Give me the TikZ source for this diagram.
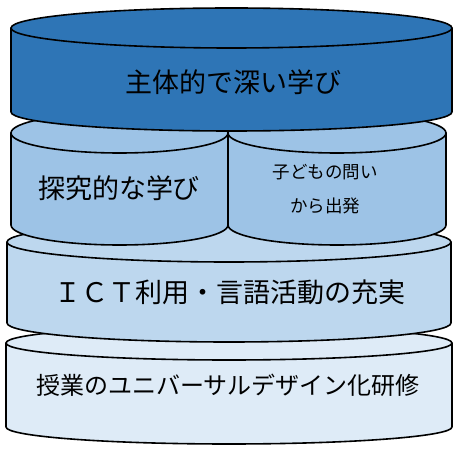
\documentclass[tikz,border=0pt]{standalone}
\usepackage{fontspec}
\newfontfamily\cjk{Noto Sans CJK JP}
\usepackage{xcolor}
\usepackage{tikz}
\usetikzlibrary{positioning}
\definecolor{topblue}{RGB}{46,117,182}
\definecolor{midblue}{RGB}{157,195,230}
\definecolor{ictblue}{RGB}{189,215,238}
\definecolor{baseblue}{RGB}{222,235,247}

\begin{document}
\begin{tikzpicture}[x=1pt, y=1pt,
  rim/.style={draw=black, line width=1.6pt, line join=round},
  txt/.style={font=\cjk\fontsize{27}{32}\selectfont, inner sep=0pt, align=center}]
  \useasboundingbox (0,0) rectangle (453,450);
  \filldraw[rim, fill=baseblue] (6,107) -- (6,23) arc[start angle=180, end angle=360, x radius=223, y radius=17] -- (452,107) -- cycle;  % Base layer
  \filldraw[rim, fill=baseblue] (229,107) ellipse[x radius=223, y radius=17];
  \filldraw[rim, fill=ictblue] (7,208) -- (7,127) arc[start angle=180, end angle=360, x radius=222, y radius=19] -- (451,208) -- cycle;  % ICT layer
  \filldraw[rim, fill=ictblue] (229,208) ellipse[x radius=222, y radius=20];
  \filldraw[rim, fill=midblue] (11,317) -- (11,225) arc[start angle=180, end angle=360, x radius=108.5, y radius=20] -- (228,317) -- cycle;  % Left pillar
  \filldraw[rim, fill=midblue] (119.5,317) ellipse[x radius=108.5, y radius=20];
  \filldraw[rim, fill=midblue] (228,317) -- (228,225) arc[start angle=180, end angle=360, x radius=109, y radius=20] -- (446,317) -- cycle;  % Right pillar
  \filldraw[rim, fill=midblue] (337,317) ellipse[x radius=109, y radius=20];
  \filldraw[rim, fill=topblue] (11,422) -- (11,338) arc[start angle=180, end angle=360, x radius=220.5, y radius=19] -- (452,422) -- cycle;  % Top layer
  \filldraw[rim, fill=topblue] (231.5,422) ellipse[x radius=220.5, y radius=20];
  \node[txt] (Deep) at (233,368) {主体的で深い学び};
  \node[txt] (Inquiry) at (119,262) {探究的な学び};
  \node[txt, font=\cjk\fontsize{17.5}{34}\selectfont] (Question) at (325,261) {子どもの問い\\から出発};
  \node[txt] (ICT) at (230,158) {ＩＣＴ利用・言語活動の充実};
  \node[txt, font=\cjk\fontsize{24}{30}\selectfont] (Training) at (228,65) {授業のユニバーサルデザイン化研修};
\end{tikzpicture}
\end{document}
